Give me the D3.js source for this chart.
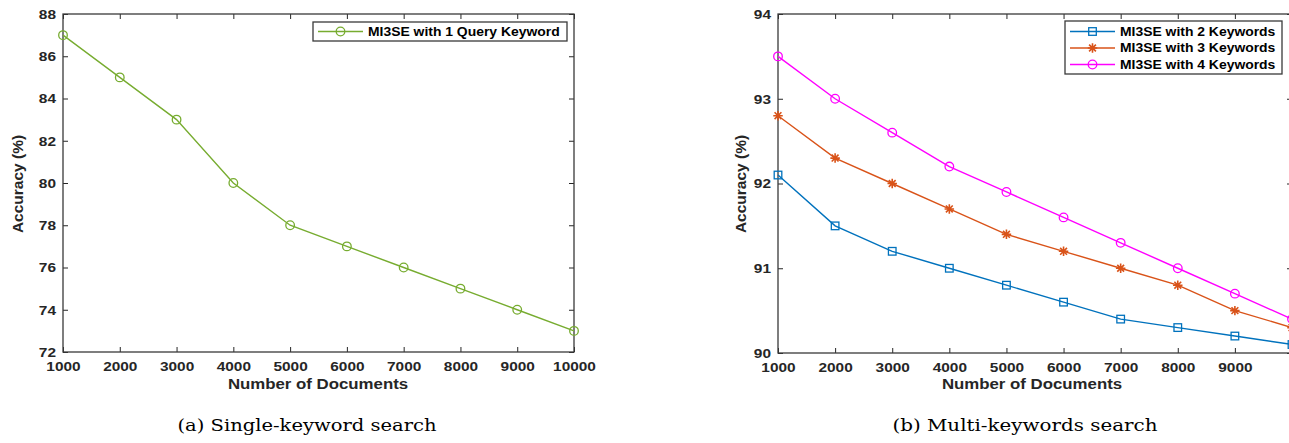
<!DOCTYPE html>
<html>
<head>
<meta charset="utf-8">
<script src="https://cdn.jsdelivr.net/npm/d3@7"></script>
<style>
  body { margin: 0; background: #fff; }
  svg { display: block; }
  .tick text { font-family: "Liberation Sans", Arial, sans-serif; font-weight: bold; font-size: 13.3px; fill: #262626; }
  .tick line { stroke: #262626; stroke-width: 1; }
  .lab { font-family: "Liberation Sans", Arial, sans-serif; font-weight: bold; font-size: 14.5px; fill: #262626; }
  .ylab { font-size: 15.5px; }
  .leg { font-family: "Liberation Sans", Arial, sans-serif; font-weight: bold; font-size: 12px; fill: #000; }
  .cap { font-family: "DejaVu Serif", "Liberation Serif", serif; font-size: 17px; fill: #000; }
</style>
</head>
<body>
<script>
// data
var docs = [1000, 2000, 3000, 4000, 5000, 6000, 7000, 8000, 9000, 10000];
var acc1kw = [87, 85, 83, 80, 78, 77, 76, 75, 74, 73];
var acc2kw = [92.1, 91.5, 91.2, 91.0, 90.8, 90.6, 90.4, 90.3, 90.2, 90.1];
var acc3kw = [92.8, 92.3, 92.0, 91.7, 91.4, 91.2, 91.0, 90.8, 90.5, 90.3];
var acc4kw = [93.5, 93.0, 92.6, 92.2, 91.9, 91.6, 91.3, 91.0, 90.7, 90.4];
var leftYTicks = [72, 74, 76, 78, 80, 82, 84, 86, 88];
var rightYTicks = [90, 91, 92, 93, 94];
var leftXTicks = docs;
var rightXTicks = docs.slice(0, 9);
var leftNames = ['MI3SE with 1 Query Keyword'];
var rightNames = ['MI3SE with 2 Keywords', 'MI3SE with 3 Keywords', 'MI3SE with 4 Keywords'];

var W = 1289, H = 443, SX = 1.16;

var svg = d3.select('body').append('svg')
  .attr('width', W).attr('height', H);

// matlab style '*' marker (plus + cross)
var asterisk = {
  draw: function(ctx, size) {
    var r = Math.sqrt(size) / 2, d = r * 0.72;
    ctx.moveTo(-r, 0); ctx.lineTo(r, 0);
    ctx.moveTo(0, -r); ctx.lineTo(0, r);
    ctx.moveTo(-d, -d); ctx.lineTo(d, d);
    ctx.moveTo(-d, d); ctx.lineTo(d, -d);
  }
};

function marker(g, kind, color) {
  if (kind === 'circle') {
    g.append('circle').attr('r', 4.3).attr('fill', 'none').attr('stroke', color).attr('stroke-width', 1.3);
  } else if (kind === 'square') {
    g.append('rect').attr('x', -3.8).attr('y', -3.8).attr('width', 7.6).attr('height', 7.6)
      .attr('fill', 'none').attr('stroke', color).attr('stroke-width', 1.3);
  } else {
    g.append('path').attr('d', d3.symbol().type(asterisk).size(90)()).attr('fill', 'none')
      .attr('stroke', color).attr('stroke-width', 1.6);
  }
}

function panel(o) {
  var x = d3.scaleLinear().domain([1000, 10000]).range([o.x0, o.x1]);
  var y = d3.scaleLinear().domain(o.yDomain).range([o.y1, o.y0]);
  var g = svg.append('g');

  // ticks on all four sides, pointing inward
  var bottom = g.append('g').attr('transform', 'translate(0,' + o.y1 + ')')
    .call(d3.axisBottom(x).tickValues(o.xTicks).tickSizeInner(-5).tickSizeOuter(0).tickPadding(10).tickFormat(d3.format('d')));
  bottom.selectAll('text').attr('x', 0).attr('transform', 'scale(' + SX + ',1)');
  g.append('g').attr('transform', 'translate(0,' + o.y0 + ')')
    .call(d3.axisTop(x).tickValues(o.xTicks).tickSizeInner(-5).tickSizeOuter(0).tickFormat(''));
  var left = g.append('g').attr('transform', 'translate(' + o.x0 + ',0)')
    .call(d3.axisLeft(y).tickValues(o.yTicks).tickSizeInner(-5).tickSizeOuter(0).tickFormat(d3.format('d')));
  left.selectAll('text').attr('x', 0).attr('transform', 'translate(-7,0) scale(' + SX + ',1)');
  g.append('g').attr('transform', 'translate(' + o.x1 + ',0)')
    .call(d3.axisRight(y).tickValues(o.yTicks).tickSizeInner(-5).tickSizeOuter(0).tickFormat(''));
  g.selectAll('.domain').remove();

  // box
  g.append('rect').attr('x', o.x0).attr('y', o.y0)
    .attr('width', o.x1 - o.x0).attr('height', o.y1 - o.y0)
    .attr('fill', 'none').attr('stroke', '#3a3a3a').attr('stroke-width', 1.3);

  // series
  var line = d3.line().x(function(d, i) { return x(docs[i]); }).y(function(d) { return y(d); });
  o.series.forEach(function(s) {
    g.append('path').datum(s.values).attr('d', line)
      .attr('fill', 'none').attr('stroke', s.color).attr('stroke-width', 1.4);
    g.selectAll(null).data(s.values).enter().append('g')
      .attr('transform', function(d, i) { return 'translate(' + x(docs[i]) + ',' + y(d) + ')'; })
      .each(function() { marker(d3.select(this), s.marker, s.color); });
  });

  // axis labels
  g.append('text').attr('class', 'lab').attr('text-anchor', 'middle')
    .attr('transform', 'translate(' + o.xLabX + ',389) scale(' + SX + ',1)')
    .text('Number of Documents');
  g.append('text').attr('class', 'lab ylab').attr('text-anchor', 'middle')
    .attr('transform', 'translate(' + o.yLabX + ',184) rotate(-90)')
    .text('Accuracy (%)');

  // legend
  var L = o.legend;
  g.append('rect').attr('x', L.x).attr('y', L.y).attr('width', L.w).attr('height', L.h)
    .attr('fill', '#fff').attr('stroke', '#3a3a3a').attr('stroke-width', 1.3);
  o.series.forEach(function(s, i) {
    var cy = L.y + L.first + i * L.step;
    g.append('line').attr('x1', L.x + 5).attr('x2', L.x + 50).attr('y1', cy).attr('y2', cy)
      .attr('stroke', s.color).attr('stroke-width', 1.4);
    var m = g.append('g').attr('transform', 'translate(' + (L.x + 27.5) + ',' + cy + ')');
    marker(m, s.marker, s.color);
    g.append('text').attr('class', 'leg')
      .attr('transform', 'translate(' + (L.x + 55) + ',' + (cy + 4.3) + ') scale(' + SX + ',1)')
      .text(s.name);
  });

  // caption
  svg.append('text').attr('class', 'cap').attr('text-anchor', 'middle')
    .attr('x', o.capX).attr('y', 431)
    .attr('textLength', o.capW).attr('lengthAdjust', 'spacingAndGlyphs')
    .text(o.caption);
}

panel({
  x0: 63, x1: 574, y0: 14, y1: 352,
  yDomain: [72, 88], yTicks: leftYTicks, xTicks: leftXTicks,
  xLabX: 318, yLabX: 23,
  series: [{ name: leftNames[0], values: acc1kw, color: '#77AC30', marker: 'circle' }],
  legend: { x: 313, y: 22, w: 254, h: 19, first: 9.5, step: 17 },
  caption: '(a) Single-keyword search', capX: 307, capW: 259
});

panel({
  x0: 778, x1: 1292, y0: 14, y1: 353,
  yDomain: [90, 94], yTicks: rightYTicks, xTicks: rightXTicks,
  xLabX: 1032, yLabX: 746,
  series: [
    { name: rightNames[0], values: acc2kw, color: '#0072BD', marker: 'square' },
    { name: rightNames[1], values: acc3kw, color: '#D95319', marker: 'asterisk' },
    { name: rightNames[2], values: acc4kw, color: '#FF00FF', marker: 'circle' }
  ],
  legend: { x: 1065, y: 21, w: 217, h: 53, first: 10.5, step: 16.5 },
  caption: '(b) Multi-keywords search', capX: 1025, capW: 265
});
</script>
</body>
</html>
